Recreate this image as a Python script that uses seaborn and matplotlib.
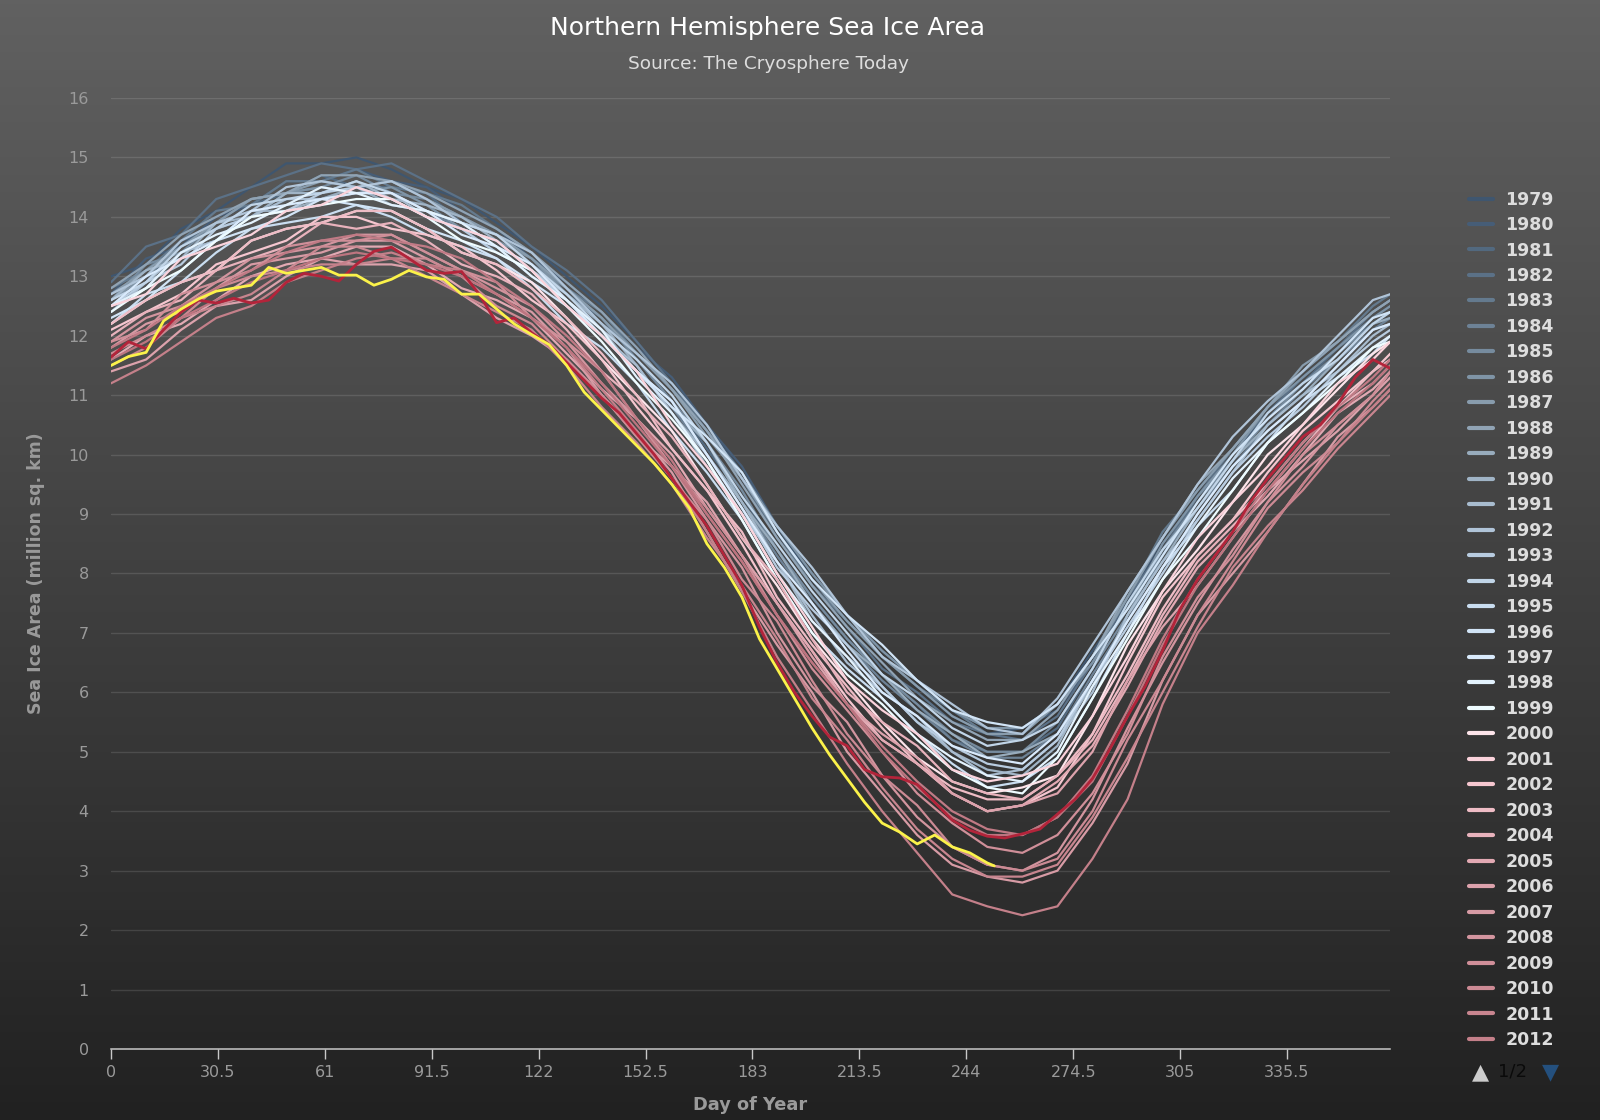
import numpy as np
import pandas as pd
import matplotlib
matplotlib.use("Agg")
import matplotlib.pyplot as plt
from matplotlib.lines import Line2D
from matplotlib.colors import LinearSegmentedColormap
import seaborn as sns

plt.rcParams["font.family"] = ["DejaVu Sans"]
plt.rcParams["lines.solid_joinstyle"] = "round"
plt.rcParams["lines.solid_capstyle"] = "round"

TITLE = "Northern Hemisphere Sea Ice Area"
SUBTITLE = "Source: The Cryosphere Today"
X_LABEL = "Day of Year"
Y_LABEL = "Sea Ice Area (million sq. km)"
x_ticks = [0, 30.5, 61, 91.5, 122, 152.5, 183, 213.5, 244, 274.5, 305, 335.5]
x_tick_labels = ["0", "30.5", "61", "91.5", "122", "152.5", "183", "213.5",
                 "244", "274.5", "305", "335.5"]
y_ticks = list(range(0, 17))

# sample days
days_10 = list(range(0, 361, 10)) + [365]
days_5 = list(range(0, 366, 5))
days_2016 = list(range(0, 251, 5)) + [252]

# sea ice area, million sq. km
area_1979 = [13.0,13.2,13.8,14.1,14.5,14.9,14.9,15.0,14.8,14.5,14.3,13.9,13.5,13.0,12.5,11.9,11.2,10.5,9.7,8.8,7.9,7.2,6.6,6.1,5.6,5.3,5.4,5.8,6.7,7.5,8.6,9.4,10.1,10.8,11.4,11.9,12.4,12.6]
area_1980 = [12.7,13.3,13.5,14.0,14.2,14.6,14.6,14.8,14.6,14.5,14.1,13.8,13.3,12.9,12.4,11.8,11.3,10.5,9.8,8.8,8.0,7.3,6.7,6.2,5.7,5.4,5.4,5.7,6.5,7.5,8.5,9.3,10.0,10.7,11.3,11.8,12.3,12.5]
area_1981 = [12.4,12.9,13.6,13.8,14.2,14.4,14.7,14.5,14.5,14.4,13.9,13.7,13.3,12.7,12.3,11.6,10.9,10.1,9.3,8.4,7.6,6.9,6.3,5.8,5.2,5.0,5.0,5.4,6.4,7.5,8.3,9.3,9.9,10.6,11.2,11.8,12.2,12.3]
area_1982 = [12.9,13.5,13.7,14.3,14.5,14.7,14.9,14.8,14.9,14.6,14.3,14.0,13.5,13.1,12.6,11.9,11.2,10.4,9.6,8.6,7.8,7.1,6.4,6.0,5.5,5.3,5.2,5.6,6.5,7.6,8.4,9.3,10.1,10.7,11.3,11.8,12.4,12.6]
area_1983 = [12.8,13.1,13.6,14.1,14.2,14.6,14.6,14.8,14.5,14.4,14.2,13.8,13.4,12.8,12.4,11.7,11.1,10.5,9.6,8.7,7.8,7.2,6.6,6.1,5.7,5.3,5.3,5.8,6.6,7.6,8.7,9.4,10.1,10.8,11.4,11.9,12.5,12.7]
area_1984 = [12.5,12.8,13.4,13.6,14.0,14.3,14.3,14.5,14.2,14.1,13.8,13.4,13.1,12.6,12.0,11.4,10.8,10.0,9.2,8.3,7.5,6.8,6.2,5.7,5.2,4.9,4.9,5.3,6.3,7.2,8.3,9.1,9.8,10.5,11.1,11.6,12.1,12.3]
area_1985 = [12.6,13.2,13.4,13.9,14.3,14.4,14.5,14.7,14.4,14.3,14.0,13.7,13.2,12.8,12.3,11.6,10.9,10.2,9.4,8.4,7.6,6.9,6.3,5.8,5.3,5.0,5.0,5.5,6.4,7.3,8.4,9.2,9.9,10.6,11.2,11.7,12.2,12.4]
area_1986 = [12.6,13.0,13.5,13.8,14.0,14.4,14.5,14.4,14.5,14.2,13.8,13.6,13.3,12.7,12.2,11.7,11.1,10.4,9.7,8.8,8.0,7.3,6.7,6.2,5.7,5.4,5.4,5.8,6.5,7.4,8.5,9.3,10.0,10.8,11.3,11.8,12.3,12.5]
area_1987 = [12.7,13.1,13.5,13.9,14.3,14.4,14.6,14.5,14.6,14.3,14.0,13.7,13.3,12.8,12.3,11.7,11.1,10.3,9.6,8.7,7.9,7.2,6.6,6.1,5.6,5.3,5.3,5.8,6.6,7.6,8.6,9.4,10.1,10.8,11.5,11.9,12.4,12.6]
area_1988 = [12.8,13.2,13.7,14.0,14.3,14.4,14.7,14.7,14.6,14.4,14.1,13.8,13.4,12.9,12.4,11.8,11.1,10.4,9.5,8.6,7.8,7.1,6.5,5.9,5.5,5.2,5.2,5.7,6.6,7.7,8.6,9.5,10.1,10.8,11.4,11.9,12.4,12.6]
area_1989 = [12.5,12.8,13.4,13.6,14.1,14.1,14.3,14.5,14.2,14.1,13.9,13.5,13.0,12.6,12.1,11.4,10.8,10.2,9.2,8.4,7.5,6.8,6.3,5.7,5.3,4.9,5.0,5.3,6.1,7.3,8.2,9.1,9.9,10.5,11.0,11.6,12.2,12.3]
area_1990 = [12.6,13.1,13.3,13.9,14.0,14.4,14.4,14.6,14.3,14.2,14.0,13.6,13.1,12.7,12.2,11.5,10.7,10.0,9.2,8.2,7.2,6.6,6.1,5.5,5.0,4.7,4.6,5.1,6.2,7.2,8.1,9.0,9.8,10.4,10.9,11.5,12.1,12.2]
area_1991 = [12.4,12.9,13.4,13.6,14.0,14.3,14.3,14.4,14.4,14.0,13.8,13.6,13.1,12.5,12.0,11.5,10.7,9.8,9.0,8.2,7.3,6.5,6.0,5.6,5.0,4.6,4.7,5.2,6.0,7.3,8.2,8.9,9.7,10.5,11.0,11.4,12.0,12.2]
area_1992 = [12.7,13.0,13.6,13.9,14.1,14.5,14.6,14.5,14.6,14.3,13.9,13.7,13.4,12.8,12.2,11.7,11.2,10.5,9.6,8.8,8.1,7.3,6.6,6.2,5.8,5.4,5.3,5.9,6.8,7.7,8.6,9.5,10.3,10.9,11.4,12.0,12.6,12.7]
area_1993 = [12.5,12.9,13.2,13.8,14.0,14.1,14.4,14.5,14.3,14.0,13.8,13.4,13.1,12.6,12.0,11.4,10.9,10.0,9.1,8.1,7.4,6.8,6.1,5.5,5.1,4.8,4.7,5.2,6.2,7.1,8.0,8.9,9.7,10.3,10.8,11.4,11.9,12.1]
area_1994 = [12.6,12.9,13.5,13.8,14.2,14.3,14.4,14.6,14.4,14.1,13.9,13.7,13.2,12.7,12.1,11.6,11.0,10.2,9.3,8.5,7.7,7.0,6.3,5.9,5.4,5.1,5.2,5.5,6.4,7.5,8.4,9.1,9.9,10.7,11.2,11.6,12.2,12.4]
area_1995 = [12.2,12.7,12.9,13.4,13.8,13.9,14.0,14.2,14.0,13.7,13.5,13.3,12.8,12.2,11.8,11.2,10.4,9.7,8.9,7.9,7.0,6.4,5.9,5.3,4.8,4.4,4.5,4.9,5.9,7.0,8.1,8.8,9.4,10.2,10.9,11.3,11.7,12.0]
area_1996 = [12.3,12.6,13.1,13.6,13.8,14.0,14.3,14.2,14.1,13.8,13.6,13.3,12.9,12.5,12.0,11.4,10.8,10.3,9.7,8.7,7.9,7.3,6.8,6.2,5.7,5.5,5.4,5.8,6.6,7.4,8.3,9.2,10.0,10.6,11.1,11.7,12.3,12.4]
area_1997 = [12.5,13.0,13.3,13.6,14.1,14.2,14.3,14.4,14.4,14.1,13.7,13.5,13.2,12.6,12.0,11.4,10.9,10.0,9.1,8.2,7.5,6.7,6.0,5.6,5.1,4.9,4.8,5.3,6.2,7.2,8.1,9.0,9.8,10.4,10.9,11.5,12.1,12.2]
area_1998 = [12.5,12.8,13.4,13.7,13.9,14.2,14.5,14.4,14.2,14.1,13.9,13.5,13.0,12.6,12.1,11.3,10.7,9.9,9.0,8.0,7.2,6.6,5.9,5.3,4.9,4.6,4.5,5.0,6.1,7.0,7.9,8.8,9.6,10.2,10.7,11.3,11.8,12.0]
area_1999 = [12.4,12.8,13.1,13.6,14.0,14.1,14.2,14.3,14.3,14.0,13.6,13.4,13.1,12.5,11.9,11.2,10.6,9.9,8.9,7.9,7.0,6.3,5.8,5.2,4.7,4.4,4.3,4.9,5.9,6.9,7.9,8.6,9.4,10.2,10.7,11.2,11.8,11.9]
area_2000 = [12.2,12.6,12.9,13.1,13.6,13.8,13.9,14.1,14.1,13.8,13.4,13.2,12.9,12.3,11.6,11.0,10.4,9.5,8.6,7.8,6.9,6.2,5.5,4.9,4.5,4.3,4.4,4.6,5.6,6.8,7.7,8.4,9.2,10.0,10.5,11.1,11.7,11.9]
area_2001 = [12.5,12.7,13.3,13.5,13.7,14.1,14.2,14.5,14.3,14.0,13.8,13.6,13.1,12.5,12.0,11.4,10.5,9.8,9.0,8.0,7.1,6.2,5.7,5.3,4.7,4.5,4.6,4.8,5.6,6.6,7.7,8.6,9.2,9.8,10.5,11.2,11.6,11.9]
area_2002 = [12.1,12.4,12.7,13.2,13.4,13.6,14.0,14.0,13.8,13.7,13.5,13.1,12.6,12.2,11.6,10.8,10.1,9.4,8.5,7.5,6.7,5.9,5.2,4.8,4.3,4.0,4.1,4.4,5.3,6.5,7.6,8.3,8.9,9.7,10.4,10.9,11.4,11.7]
area_2003 = [12.2,12.6,12.9,13.1,13.6,13.8,13.9,14.1,14.1,13.8,13.4,13.2,12.8,12.3,11.7,11.0,10.1,9.4,8.7,7.6,6.8,6.1,5.4,4.8,4.4,4.2,4.2,4.6,5.3,6.3,7.4,8.3,8.9,9.5,10.2,10.8,11.4,11.6]
area_2004 = [12.0,12.4,12.6,13.1,13.3,13.5,13.9,13.8,13.9,13.6,13.2,13.0,12.7,12.1,11.4,10.9,10.3,9.5,8.6,7.9,6.9,6.0,5.5,5.1,4.5,4.3,4.2,4.6,5.2,6.2,7.3,8.2,8.8,9.4,10.1,10.8,11.2,11.5]
area_2005 = [11.6,12.0,12.2,12.6,13.0,13.2,13.3,13.5,13.5,13.2,12.8,12.6,12.3,11.7,11.1,10.6,10.0,9.1,8.3,7.5,6.7,5.8,5.2,4.8,4.3,4.0,4.1,4.5,5.1,6.1,7.2,8.1,8.7,9.3,10.0,10.7,11.1,11.4]
area_2006 = [11.4,11.6,12.1,12.5,12.6,13.0,13.3,13.2,13.2,13.1,12.7,12.3,12.0,11.6,11.0,10.3,9.8,9.2,8.3,7.5,6.6,5.8,5.3,4.9,4.3,4.0,4.1,4.3,5.0,6.2,7.1,7.8,8.6,9.4,9.9,10.4,11.0,11.3]
area_2007 = [11.8,12.2,12.4,12.8,13.2,13.3,13.4,13.6,13.6,13.3,13.0,12.7,12.4,11.8,11.0,10.4,9.7,8.7,7.7,6.8,6.0,5.0,4.3,3.6,3.1,2.9,2.8,3.0,3.8,4.8,6.2,7.3,8.0,8.7,9.5,10.3,10.8,11.1]
area_2008 = [11.9,12.3,12.5,12.9,13.3,13.4,13.5,13.7,13.7,13.4,13.1,12.8,12.5,11.9,11.2,10.6,9.8,8.9,8.1,7.0,6.1,5.5,4.6,3.9,3.4,3.1,3.0,3.3,4.2,5.4,6.5,7.5,8.4,9.2,9.8,10.5,11.0,11.4]
area_2009 = [11.9,12.1,12.7,12.9,13.1,13.5,13.6,13.6,13.7,13.4,13.1,12.9,12.3,11.9,11.4,10.6,9.8,9.1,8.3,7.3,6.4,5.7,5.0,4.3,3.8,3.4,3.3,3.6,4.3,5.3,6.6,7.6,8.3,9.2,10.0,10.5,11.0,11.4]
area_2010 = [11.7,12.0,12.3,12.8,13.0,13.1,13.5,13.5,13.3,13.3,13.0,12.5,12.2,11.6,11.0,10.3,9.6,8.9,7.9,7.2,6.2,5.3,4.6,4.1,3.4,3.1,3.0,3.2,4.0,5.2,6.2,7.3,8.2,9.1,9.7,10.2,10.9,11.2]
area_2011 = [11.5,11.8,12.3,12.5,12.7,13.1,13.2,13.2,13.3,13.0,12.7,12.4,12.1,11.5,10.8,10.2,9.5,8.6,7.8,6.9,5.9,5.2,4.4,3.7,3.2,2.9,2.9,3.1,3.9,4.9,6.0,7.1,8.1,8.8,9.4,10.1,10.7,11.0]
area_2012 = [11.2,11.5,11.9,12.3,12.5,12.9,13.1,13.3,13.4,13.2,13.1,12.7,12.3,11.8,11.1,10.4,9.6,8.7,7.7,6.6,5.7,4.8,4.0,3.3,2.6,2.4,2.25,2.4,3.2,4.2,5.8,7.0,7.8,8.7,9.5,10.2,10.8,11.1]
area_2013 = [11.8,12.1,12.5,12.8,13.1,13.4,13.6,13.7,13.6,13.5,13.3,12.9,12.5,12.0,11.4,10.6,9.9,9.0,8.2,7.3,6.5,5.8,5.1,4.5,4.0,3.7,3.6,3.9,4.6,5.7,6.9,7.9,8.7,9.5,10.2,10.8,11.3,11.6]
area_2014 = [11.6,11.9,12.3,12.6,12.9,13.1,13.3,13.4,13.3,13.2,13.0,12.7,12.3,11.8,11.2,10.5,9.8,9.0,8.2,7.3,6.5,5.8,5.0,4.4,3.9,3.6,3.6,3.9,4.5,5.6,6.8,7.8,8.6,9.4,10.1,10.7,11.2,11.5]
area_2015 = [11.64,11.9,11.78,12.1,12.4,12.6,12.55,12.63,12.55,12.6,12.9,13.05,13.0,12.92,13.2,13.42,13.49,13.3,13.1,13.05,
             13.08,12.7,12.22,12.3,12.05,11.85,11.55,11.25,10.95,10.7,10.35,10.0,9.6,9.2,8.8,8.3,7.8,7.1,6.5,6.0,
             5.6,5.25,5.1,4.7,4.58,4.56,4.45,4.15,3.85,3.68,3.58,3.55,3.62,3.7,3.95,4.2,4.55,5.05,5.6,6.1,
             6.7,7.4,7.9,8.3,8.7,9.2,9.6,9.95,10.3,10.5,10.85,11.3,11.6,11.45]
area_2016 = [11.5,11.65,11.72,12.25,12.45,12.62,12.75,12.8,12.85,13.15,13.05,13.1,13.15,13.02,13.02,12.85,12.95,13.1,12.99,12.95,
             12.7,12.7,12.45,12.2,12.02,11.85,11.5,11.05,10.75,10.45,10.15,9.85,9.5,9.1,8.5,8.1,7.6,6.9,6.4,5.9,
             5.4,4.95,4.55,4.15,3.8,3.65,3.45,3.6,3.4,3.3,3.13,3.08]

years_grid10 = list(range(1979, 2015))
legend_years = list(range(1979, 2013))

year_colors = ["#3f566f", "#465d77", "#52697f", "#5b7187", "#647a8e", "#6d8296",
               "#768b9e", "#7f94a6", "#889cad", "#90a3b4", "#98acbd", "#a0b4c6",
               "#a8bccf", "#b0c4d8", "#b8cce0", "#c1d5e8", "#c9ddf0", "#d1e4f6",
               "#d9eafc", "#e3f2fd", "#eefcff", "#fde4ea", "#fbd3dc", "#f5c6cf",
               "#eebcc5", "#e8b2bc", "#e2a9b3", "#dca2ac", "#d79ba5", "#d3959f",
               "#d08f99", "#cc8a94", "#c8858f", "#c4808a", "#c07a85", "#bd7580"]
color_2015 = "#b3243a"
color_2016 = "#fbf24a"

series = {y: globals()["area_%d" % y] for y in years_grid10}
rows = []
for y in years_grid10:
    for d, v in zip(days_10, series[y]):
        rows.append((d, v, str(y)))
df = pd.DataFrame(rows, columns=["day", "area", "year"])
palette = {str(y): c for y, c in zip(years_grid10, year_colors)}

fig = plt.figure(figsize=(16, 11.2), dpi=100)

# background gradient
bg = fig.add_axes([0, 0, 1, 1], zorder=-10)
grad = np.linspace(0, 1, 256).reshape(-1, 1)
cmap_bg = LinearSegmentedColormap.from_list("bg", ["#616161", "#212121"])
bg.imshow(grad, aspect="auto", cmap=cmap_bg, extent=[0, 1, 0, 1], origin="upper")
bg.set_axis_off()

ax = fig.add_axes([0.0694, 0.0634, 0.7996, 0.8491])
ax.patch.set_alpha(0)

sns.lineplot(data=df, x="day", y="area", hue="year", hue_order=[str(y) for y in years_grid10],
             palette=palette, estimator=None, sort=False, linewidth=1.6, legend=False, ax=ax)
sns.lineplot(x=days_5, y=area_2015, color=color_2015, linewidth=2.0, estimator=None, ax=ax)
sns.lineplot(x=days_2016, y=area_2016, color=color_2016, linewidth=2.0, estimator=None, ax=ax)

ax.set_xlim(0, 365)
ax.set_ylim(0, 16)
ax.set_xticks(x_ticks)
ax.set_xticklabels(x_tick_labels)
ax.set_yticks(y_ticks)
ax.set_yticklabels([str(t) for t in y_ticks])
for yv in y_ticks[1:]:
    ax.axhline(yv, color="white", alpha=0.12, lw=1.0, zorder=0)
for s in ["top", "right", "left"]:
    ax.spines[s].set_visible(False)
ax.spines["bottom"].set_color("#c8c8c8")
ax.spines["bottom"].set_linewidth(1.1)
ax.tick_params(axis="x", direction="out", length=7.5, width=1, color="#c8c8c8",
               labelcolor="#9a9a9a", labelsize=11.5, pad=4)
ax.tick_params(axis="y", length=0, labelcolor="#9a9a9a", labelsize=11.5, pad=16)
ax.set_xlabel("")
ax.set_ylabel("")

fig.text(0.48, 0.975, TITLE, ha="center", va="center", color="white", fontsize=18)
fig.text(0.48, 0.9426, SUBTITLE, ha="center", va="center", color="#dddddd", fontsize=13.3)
fig.text(0.469, 0.0134, X_LABEL, ha="center", va="center", color="#9a9a9a",
         fontsize=12.8, fontweight="bold")
fig.text(0.0223, 0.488, Y_LABEL, ha="center", va="center", rotation=90, color="#9a9a9a",
         fontsize=12.5, fontweight="bold")

handles = [Line2D([], [], color=c, lw=3) for c in year_colors[:len(legend_years)]]
leg = ax.legend(handles, [str(y) for y in legend_years], loc="upper left",
                bbox_to_anchor=(0.918, 0.8298), bbox_transform=fig.transFigure,
                frameon=False, prop={"weight": "bold", "size": 12.5}, labelcolor="#dddddd",
                handlelength=1.4, handletextpad=0.7, labelspacing=0.43,
                borderpad=0, borderaxespad=0)

fig.text(0.9256, 0.0429, "\u25B2", ha="center", va="center", color="#cccccc", fontsize=16)
fig.text(0.9456, 0.0429, "1/2", ha="center", va="center", color="#0a0a0a", fontsize=13)
fig.text(0.969, 0.0429, "\u25BC", ha="center", va="center", color="#24507e", fontsize=16)

fig.savefig("out.png", dpi=100)
